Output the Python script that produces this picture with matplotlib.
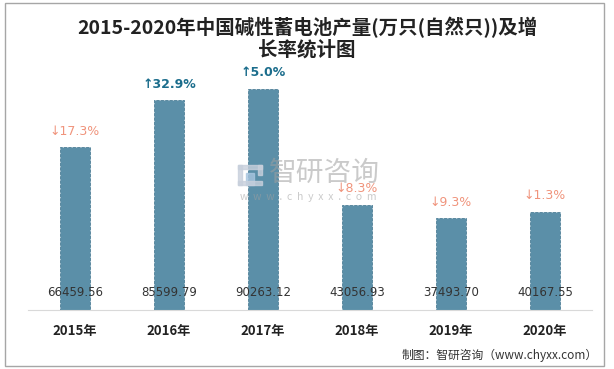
import matplotlib.pyplot as plt
from matplotlib.patches import Rectangle

plt.rcParams['font.family'] = ['Noto Sans CJK SC', 'DejaVu Sans']

years = ['2015年', '2016年', '2017年', '2018年', '2019年', '2020年']
output = [66459.56, 85599.79, 90263.12, 43056.93, 37493.70, 40167.55]
growth = [-17.3, 32.9, 5.0, -8.3, -9.3, -1.3]

fig = plt.figure(figsize=(6.14, 3.69), dpi=100)
ax = fig.add_axes([28 / 614, 59 / 369, 564 / 614, 245 / 369])

x = list(range(len(years)))
ax.bar(x, output, width=0.31, color='#5b8fa8', edgecolor='#4e7f97',
       linestyle='--', linewidth=0.6)
ax.set_xlim(-0.5, len(years) - 0.5)
ax.set_ylim(0, 100000)

for i, (v, g) in enumerate(zip(output, growth)):
    ax.text(i, 7000, f'{v:.2f}', ha='center', va='center', fontsize=8.5,
            color='#333333', family=['DejaVu Sans'])
    if g >= 0:
        s, c, w = f'↑{g:.1f}%', '#1b6d8c', 'bold'
    else:
        s, c, w = f'↓{abs(g):.1f}%', '#f0947c', 'normal'
    ax.text(i, v + 6500, s, ha='center', va='center', fontsize=9, color=c,
            fontweight=w, family=['DejaVu Sans'], zorder=5)

ax.set_xticks(x)
ax.set_xticklabels(years, fontsize=9.5, fontweight='bold', color='#222222')
ax.tick_params(axis='x', length=0, pad=10)
ax.set_yticks([])
for sp in ['top', 'left', 'right']:
    ax.spines[sp].set_visible(False)
ax.spines['bottom'].set_color('#d9d9d9')

# watermark (logo + name + url)
def px(xp, yp):
    return xp / 614, 1 - yp / 369

for (x0, y0, w, h, col) in [(238, 165, 24, 4, '#c8d0dc'), (238, 165, 4, 20, '#c8d0dc'),
                            (258, 165, 4, 10, '#c8d0dc'), (246, 173, 8, 12, '#a8c6e0'),
                            (238, 181, 24, 4, '#c8d0dc')]:
    fig.patches.append(Rectangle(px(x0, y0 + h), w / 614, h / 369,
                                 transform=fig.transFigure, color=col, alpha=0.8))
fig.text(*px(324, 173), '智研咨询', fontsize=20, color='#a0a0a0', alpha=0.55,
         ha='center', va='center')
fig.text(*px(308, 197), 'w  w  w  .  c  h  y  x  x  .  c  o  m', fontsize=7.5,
         color='#a0a0a0', alpha=0.55, ha='center', va='center')

fig.text(0.5, 1 - 38 / 369, '2015-2020年中国碱性蓄电池产量(万只(自然只))及增\n长率统计图',
         ha='center', va='center', fontsize=14, fontweight='bold',
         color='#222222', linespacing=1.15)
fig.text(598 / 614, 14 / 369, '制图：智研咨询（www.chyxx.com）',
         ha='right', va='center', fontsize=8.5, color='#333333')

fig.patches.append(Rectangle((5 / 614, 3 / 369), 599 / 614, 363 / 369,
                             transform=fig.transFigure, fill=False,
                             edgecolor='#a6a6a6', linewidth=1))

fig.savefig('out.png', dpi=100)
